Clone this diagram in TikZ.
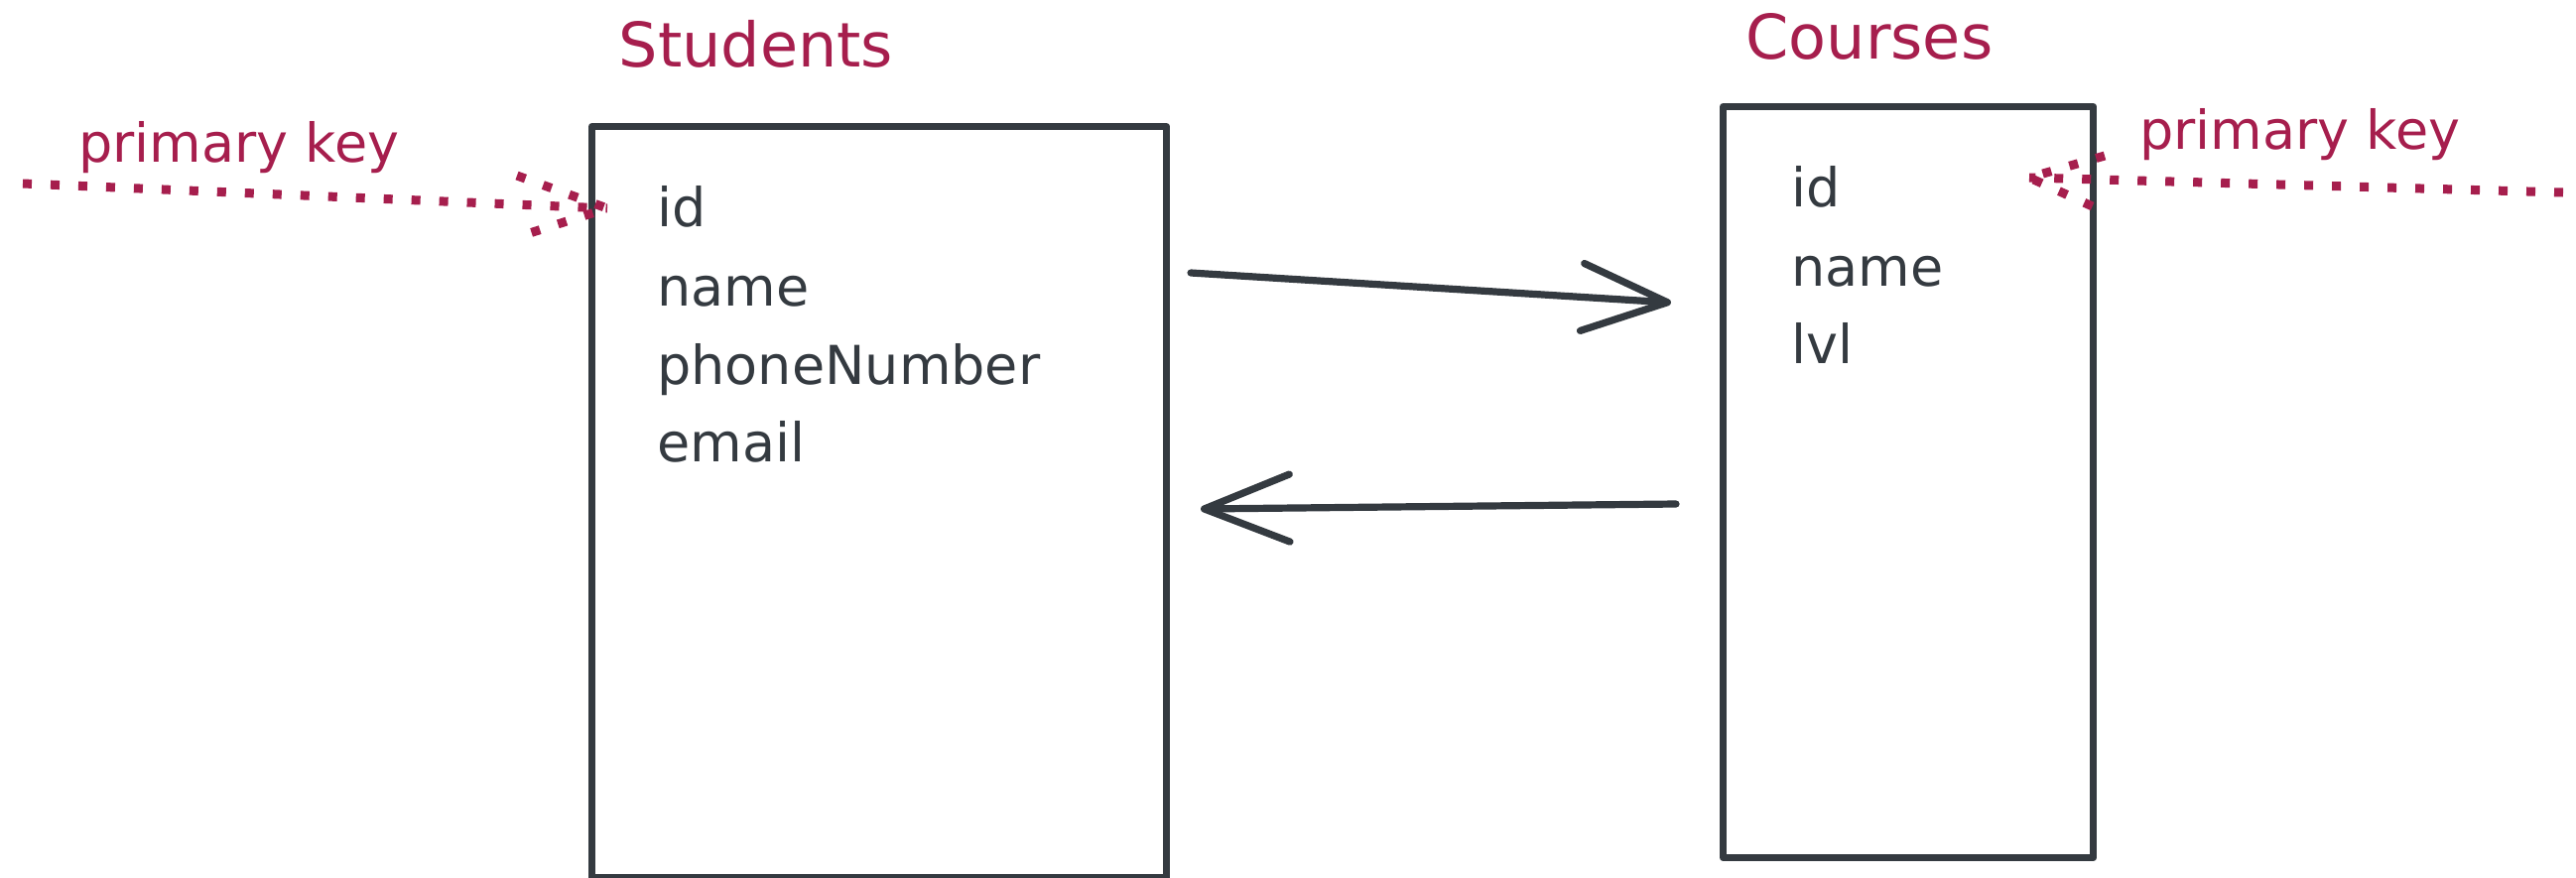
\documentclass[tikz,border=0pt]{standalone}
\usepackage{fontspec}
\setmainfont{DejaVu Sans}
\usetikzlibrary{arrows.meta,calc}
\definecolor{ink}{HTML}{343A40}
\definecolor{pk}{HTML}{A61E4D}
\begin{document}
\begin{tikzpicture}[x=0.5pt,y=-0.5pt,
 tbl/.style={draw=ink, line width=3.6pt, line join=round, inner sep=0pt, anchor=north west},
 field/.style={text=ink, font=\fontsize{27}{32}\selectfont, anchor=base west, inner sep=0pt},
 title/.style={text=pk, font=\fontsize{31}{36}\selectfont, anchor=base, inner sep=0pt},
 pklabel/.style={text=pk, font=\fontsize{27}{32}\selectfont, anchor=base west, inner sep=0pt},
 rel/.style={draw=ink, line width=3.6pt, line cap=round, -{Straight Barb[length=43pt,width=34pt,line width=3.6pt,round]}},
 pkline/.style={draw=pk, line width=4.5pt, dash pattern=on 4.5pt off 9.5pt},
]
\useasboundingbox (0,0) rectangle (2596,884);
% tables
\node[tbl, minimum width=289.5pt, minimum height=378.5pt] (S) at (593,124) {};
\node[tbl, minimum width=186.5pt, minimum height=378.5pt] (C) at (1733,104) {};
% titles
\node[title] (St) at (762,67) {Students};
\node[title] (Ct) at (1884,59) {Courses};
% fields
\node[field] (s1) at (662,228) {id};
\node[field] (s2) at (662,308) {name};
\node[field] (s3) at (662,387) {phoneNumber};
\node[field] (s4) at (662,465) {email};
\node[field] (c1) at (1805,208) {id};
\node[field] (c2) at (1805,288) {name};
\node[field] (c3) at (1805,366) {lvl};
% primary key labels
\node[pklabel] (pkl) at (79,163) {primary key};
\node[pklabel] (pkr) at (2156,150) {primary key};
% dotted arrows
\coordinate (lpkS) at (23,185);
\coordinate (lpkT) at (612,210);
\draw[pkline] (lpkS) -- (lpkT);
\draw[pkline] ($(lpkT)+(-91,-33)$) -- (lpkT) -- ($(lpkT)+(-94,30)$);
\coordinate (rpkS) at (2583,194);
\coordinate (rpkT) at (2045,179);
\draw[pkline] (rpkS) -- (rpkT);
\draw[pkline] ($(rpkT)+(76,-22)$) -- (rpkT) -- ($(rpkT)+(79,36)$);
% relation arrows
\coordinate (a1s) at (1200,275);
\coordinate (a1e) at (1684,305);
\coordinate (a2s) at (1689,508);
\coordinate (a2e) at (1210,513);
\draw[rel] (a1s) -- (a1e);
\draw[rel] (a2s) -- (a2e);
\end{tikzpicture}
\end{document}
